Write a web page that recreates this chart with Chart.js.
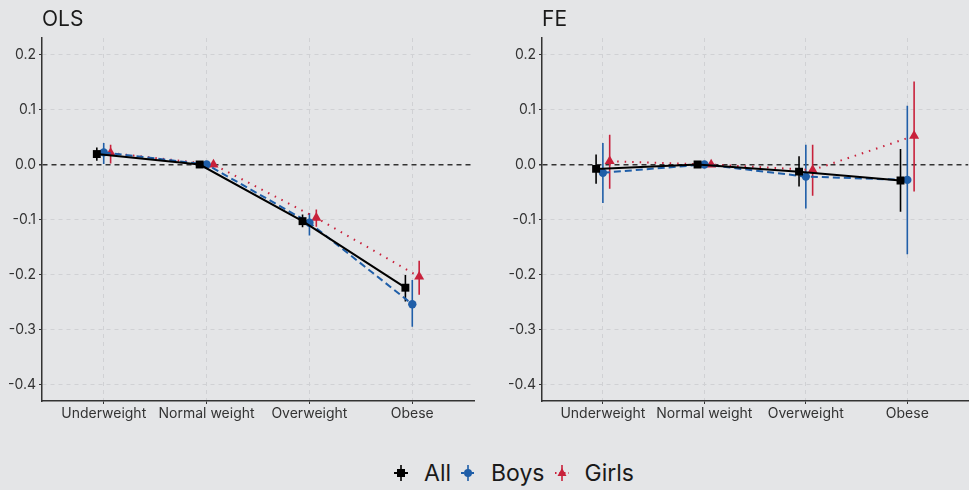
<!DOCTYPE html>
<html>
<head>
<meta charset="utf-8">
<script src="https://cdn.jsdelivr.net/npm/chart.js@4"></script>
<style>
  html, body { margin: 0; padding: 0; }
  body { width: 969px; height: 490px; overflow: hidden; background: #e4e5e7; position: relative; font-family: Inter, "Noto Sans", sans-serif; }
  .panel { position: absolute; top: 0; height: 440px; }
  #legend { position: absolute; left: 0; top: 455px; width: 1028px; height: 36px; display: flex; justify-content: center; align-items: center; font-size: 23px; color: #1a1a1a; }
  #legend .item { display: flex; align-items: center; margin: 0 5px; }
  #legend svg { margin-right: 16px; }
</style>
</head>
<body>
<div class="panel" style="left:0;width:480px;"><canvas id="ols"></canvas></div>
<div class="panel" style="left:500px;width:474px;"><canvas id="fe"></canvas></div>
<div id="legend"></div>
<script>
// categories and ticks
var categories = ['Underweight', 'Normal weight', 'Overweight', 'Obese'];
var yTicks = [-0.4, -0.3, -0.2, -0.1, 0.0, 0.1, 0.2];
var seriesNames = ['All', 'Boys', 'Girls'];

// OLS estimates (point, lower, upper)
var olsAll = [0.019, 0, -0.103, -0.224];
var olsAllLo = [0.007, 0, -0.114, -0.249];
var olsAllHi = [0.031, 0, -0.091, -0.201];
var olsBoys = [0.022, 0, -0.106, -0.254];
var olsBoysLo = [0.001, 0, -0.129, -0.295];
var olsBoysHi = [0.039, 0, -0.088, -0.210];
var olsGirls = [0.021, 0, -0.097, -0.204];
var olsGirlsLo = [0.002, 0, -0.113, -0.237];
var olsGirlsHi = [0.036, 0, -0.082, -0.175];

// FE estimates (point, lower, upper)
var feAll = [-0.008, 0, -0.013, -0.029];
var feAllLo = [-0.035, 0, -0.040, -0.086];
var feAllHi = [0.018, 0, 0.015, 0.028];
var feBoys = [-0.015, 0, -0.022, -0.028];
var feBoysLo = [-0.070, 0, -0.080, -0.163];
var feBoysHi = [0.039, 0, 0.036, 0.107];
var feGirls = [0.006, 0, -0.010, 0.052];
var feGirlsLo = [-0.044, 0, -0.057, -0.049];
var feGirlsHi = [0.054, 0, 0.036, 0.151];

var colors = ['#000000', '#1f5ea8', '#c8213b'];
var dodge = [-0.067, 0, 0.067];
var styles = [
    { dash: [], shape: 'rect', r: 5.6 },
    { dash: [7, 4], shape: 'circle', r: 4.2 },
    { dash: [1.5, 6], shape: 'triangle', r: 5.8 }
];

/**
 * build line + point dataset for one series
 */
function seriesDataset(k, values) {
    var pts = [];
    for (var i = 0; i < values.length; i++) {
        pts.push({ x: i + 1 + dodge[k], y: values[i] });
    }
    return {
        label: seriesNames[k],
        data: pts,
        borderColor: colors[k],
        backgroundColor: colors[k],
        borderWidth: 2,
        borderDash: styles[k].dash,
        pointStyle: styles[k].shape,
        pointRadius: styles[k].r,
        pointBorderWidth: 0,
        pointBackgroundColor: colors[k],
        order: 1
    };
}

/**
 * build error bar dataset (vertical segments split by gaps)
 */
function errorDataset(k, lo, hi) {
    var pts = [];
    for (var i = 0; i < lo.length; i++) {
        if (lo[i] == hi[i]) continue;
        var x = i + 1 + dodge[k];
        pts.push({ x: x, y: lo[i] });
        pts.push({ x: x, y: hi[i] });
        pts.push({ x: x, y: null });
    }
    return {
        label: seriesNames[k] + ' CI',
        data: pts,
        borderColor: colors[k],
        borderWidth: 1.6,
        pointRadius: 0,
        spanGaps: false,
        order: 2
    };
}

// draws panel title at the left of the plot area
var panelTitle = {
    id: 'panelTitle',
    afterDraw: function(chart, args, opts) {
        var ctx = chart.ctx;
        ctx.save();
        ctx.font = '21px Inter, "Noto Sans", sans-serif';
        ctx.fillStyle = '#1a1a1a';
        ctx.textBaseline = 'alphabetic';
        ctx.fillText(opts.text, chart.chartArea.left, 26);
        ctx.restore();
    }
};

/**
 * makes one panel
 */
function makePanel(id, title, data, yWidth, padRight) {
    var datasets = [];
    for (var k = 0; k < 3; k++) {
        datasets.push(seriesDataset(k, data[k][0]));
    }
    for (var k = 0; k < 3; k++) {
        datasets.push(errorDataset(k, data[k][1], data[k][2]));
    }
    var tickFont = { family: 'Inter, "Noto Sans", sans-serif', size: 14 };
    new Chart(document.getElementById(id), {
        type: 'line',
        data: { datasets: datasets },
        plugins: [panelTitle],
        options: {
            responsive: true,
            maintainAspectRatio: false,
            animation: false,
            layout: { padding: { top: 38, right: padRight, left: 0, bottom: 0 } },
            plugins: {
                legend: { display: false },
                tooltip: { enabled: false },
                panelTitle: { text: title }
            },
            scales: {
                x: {
                    type: 'linear',
                    min: 0.4,
                    max: 4.6,
                    afterBuildTicks: function(scale) {
                        scale.ticks = categories.map(function(c, i) { return { value: i + 1 }; });
                    },
                    afterFit: function(scale) { scale.height = 39; },
                    ticks: {
                        callback: function(v) { return categories[v - 1]; },
                        color: '#333333',
                        font: tickFont,
                        padding: 1,
                        maxRotation: 0,
                        autoSkip: false
                    },
                    grid: {
                        color: '#d0d1d4',
                        lineWidth: 1,
                        tickLength: 3,
                        tickColor: '#333333',
                        tickBorderDash: []
                    },
                    border: { color: '#333333', width: 1.5, dash: [4, 4] }
                },
                y: {
                    min: -0.43,
                    max: 0.23,
                    afterBuildTicks: function(scale) {
                        scale.ticks = yTicks.map(function(v) { return { value: v }; });
                    },
                    afterFit: function(scale) { scale.width = yWidth; },
                    ticks: {
                        callback: function(v) { return v.toFixed(1); },
                        color: '#333333',
                        font: tickFont,
                        padding: 3
                    },
                    grid: {
                        color: function(c) { return c.tick && Math.abs(c.tick.value) < 1e-9 ? '#333333' : '#d0d1d4'; },
                        lineWidth: function(c) { return c.tick && Math.abs(c.tick.value) < 1e-9 ? 1.4 : 1; },
                        tickLength: 3,
                        tickColor: '#333333',
                        tickBorderDash: []
                    },
                    border: {
                        color: '#333333',
                        width: 1.5,
                        dash: function(c) { return c.tick && Math.abs(c.tick.value) < 1e-9 ? [5, 4] : [4, 4]; }
                    }
                }
            }
        }
    });
}

/**
 * legend with pointrange style keys
 */
function buildLegend() {
    var el = document.getElementById('legend');
    var html = '';
    for (var k = 0; k < 3; k++) {
        var c = colors[k];
        var mark;
        if (k == 0) mark = '<rect x="3" y="3" width="8" height="8" fill="' + c + '"/>';
        else if (k == 1) mark = '<circle cx="7" cy="7" r="4" fill="' + c + '"/>';
        else mark = '<polygon points="7,2 11.5,10 2.5,10" fill="' + c + '"/>';
        var dash = k == 1 ? ' stroke-dasharray="3,2"' : (k == 2 ? ' stroke-dasharray="1.5,3"' : '');
        html += '<span class="item"><svg width="14" height="16" viewBox="0 -1 14 16">' +
            '<line x1="0" y1="7" x2="14" y2="7" stroke="' + c + '" stroke-width="2"' + dash + '/>' +
            '<line x1="7" y1="-1" x2="7" y2="15" stroke="' + c + '" stroke-width="1.6"/>' +
            mark + '</svg>' + seriesNames[k] + '</span>';
    }
    el.innerHTML = html;
}

makePanel('ols', 'OLS', [[olsAll, olsAllLo, olsAllHi], [olsBoys, olsBoysLo, olsBoysHi], [olsGirls, olsGirlsLo, olsGirlsHi]], 42, 6);
makePanel('fe', 'FE', [[feAll, feAllLo, feAllHi], [feBoys, feBoysLo, feBoysHi], [feGirls, feGirlsLo, feGirlsHi]], 42, 0);
buildLegend();
</script>
</body>
</html>
